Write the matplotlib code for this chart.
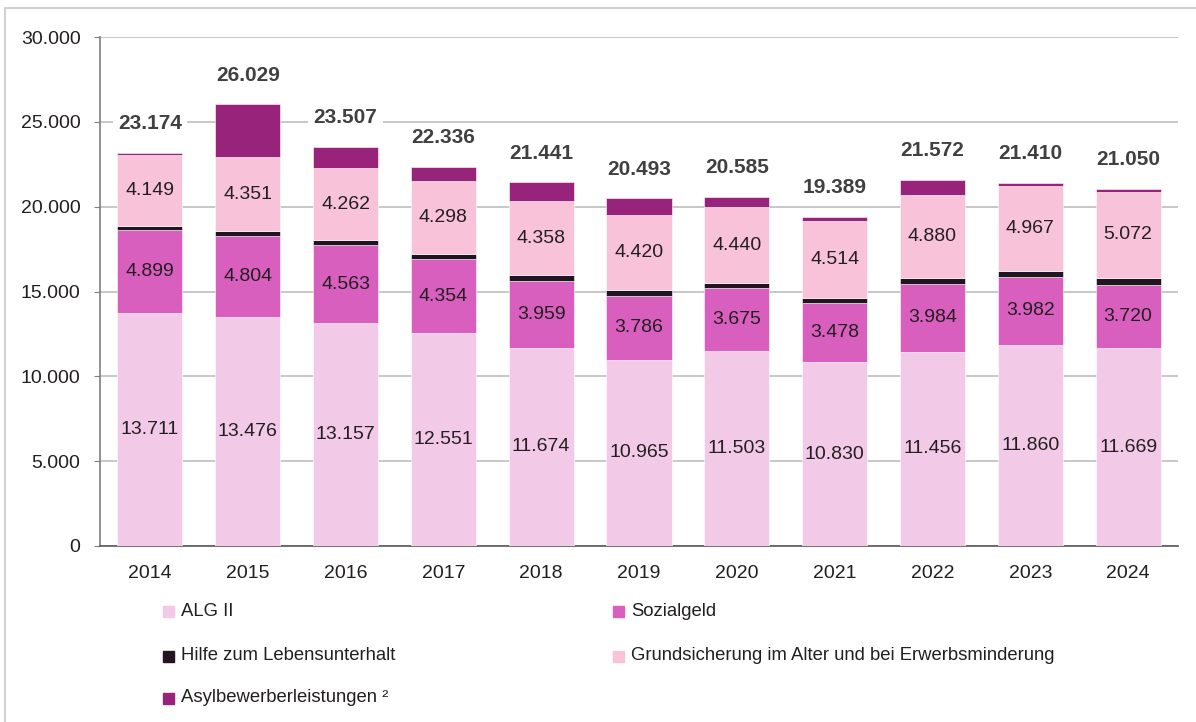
import numpy as np
import matplotlib
matplotlib.use("Agg")
import matplotlib.pyplot as plt
from matplotlib.patches import Rectangle

plt.rcParams["font.family"] = ["Liberation Sans", "DejaVu Sans"]

jahre = ["2014", "2015", "2016", "2017", "2018", "2019", "2020", "2021", "2022", "2023", "2024"]

alg2 = [13711, 13476, 13157, 12551, 11674, 10965, 11503, 10830, 11456, 11860, 11669]
sozialgeld = [4899, 4804, 4563, 4354, 3959, 3786, 3675, 3478, 3984, 3982, 3720]
hilfe = [270, 280, 300, 320, 340, 350, 340, 330, 370, 380, 420]          # geschaetzt
grundsicherung = [4149, 4351, 4262, 4298, 4358, 4420, 4440, 4514, 4880, 4967, 5072]
asyl = [145, 3118, 1225, 813, 1110, 972, 627, 237, 882, 221, 169]        # geschaetzt
gesamt = [23174, 26029, 23507, 22336, 21441, 20493, 20585, 19389, 21572, 21410, 21050]

reihen = [
    ("ALG II", alg2, "#F2CAE8", True),
    ("Sozialgeld", sozialgeld, "#D95FBE", True),
    ("Hilfe zum Lebensunterhalt", hilfe, "#221420", False),
    ("Grundsicherung im Alter und bei Erwerbsminderung", grundsicherung, "#F8C3D8", True),
    ("Asylbewerberleistungen \u00b2", asyl, "#97237A", False),
]

def fmt(v):
    return f"{v:,}".replace(",", ".")

W, H = 1196, 722
fig = plt.figure(figsize=(W / 100, H / 100), dpi=100)
fig.patches.append(Rectangle((5 / W, -0.05), 1.2, (H - 8) / H + 0.05, transform=fig.transFigure,
                             fill=False, edgecolor="#C8C8C8", linewidth=1.2))

ax = fig.add_axes([100 / W, (H - 546) / H, 1078 / W, (546 - 37) / H])

x = np.arange(len(jahre))
unten = np.zeros(len(jahre))
for name, werte, farbe, beschriften in reihen:
    werte = np.array(werte)
    ax.bar(x, werte, 0.665, bottom=unten, color=farbe, edgecolor="white", linewidth=0.4, zorder=3)
    if beschriften:
        for xi, b, v in zip(x, unten, werte):
            ax.text(xi, b + v / 2, fmt(int(v)), ha="center", va="center",
                    fontsize=14, color="#231F20", zorder=4)
    unten = unten + werte

for xi, g in zip(x, gesamt):
    ax.annotate(fmt(g), (xi, g), xytext=(0, 21), textcoords="offset points",
                ha="center", va="center", fontsize=15, fontweight="bold", color="#404040",
                bbox=dict(boxstyle="square,pad=0.25", fc="white", ec="none"), zorder=5)

ax.set_xlim(-0.51, len(jahre) - 0.49)
ax.set_ylim(0, 30000)
ax.set_yticks(np.arange(0, 30001, 5000))
ax.set_yticklabels([fmt(v) for v in range(0, 30001, 5000)])
ax.set_xticks(x)
ax.set_xticklabels(jahre)
ax.grid(axis="y", color="#BFBFBF", linewidth=1.2, zorder=0)
ax.set_axisbelow(True)
for s in ["top", "right"]:
    ax.spines[s].set_visible(False)
ax.spines["left"].set_color("#7F7F7F")
ax.spines["bottom"].set_color("#595959")
ax.spines["left"].set_linewidth(1.2)
ax.spines["bottom"].set_linewidth(1.2)
ax.tick_params(axis="y", length=4, color="#7F7F7F", pad=10, labelsize=14, labelcolor="#231F20")
ax.tick_params(axis="x", length=0, pad=14, labelsize=14, labelcolor="#231F20")

# Legende
legende_pos = [(163, 611), (613, 611), (163, 656), (613, 656), (163, 698)]
for (px, py), (name, _, farbe, _) in zip(legende_pos, reihen):
    fig.patches.append(Rectangle((px / W, (H - py - 5.5) / H), 11 / W, 11 / H,
                                 transform=fig.transFigure, color=farbe))
    fig.text((px + 18) / W, (H - py) / H, name, ha="left", va="center",
             fontsize=13.3, color="#231F20")

fig.savefig("out.png", dpi=100)
